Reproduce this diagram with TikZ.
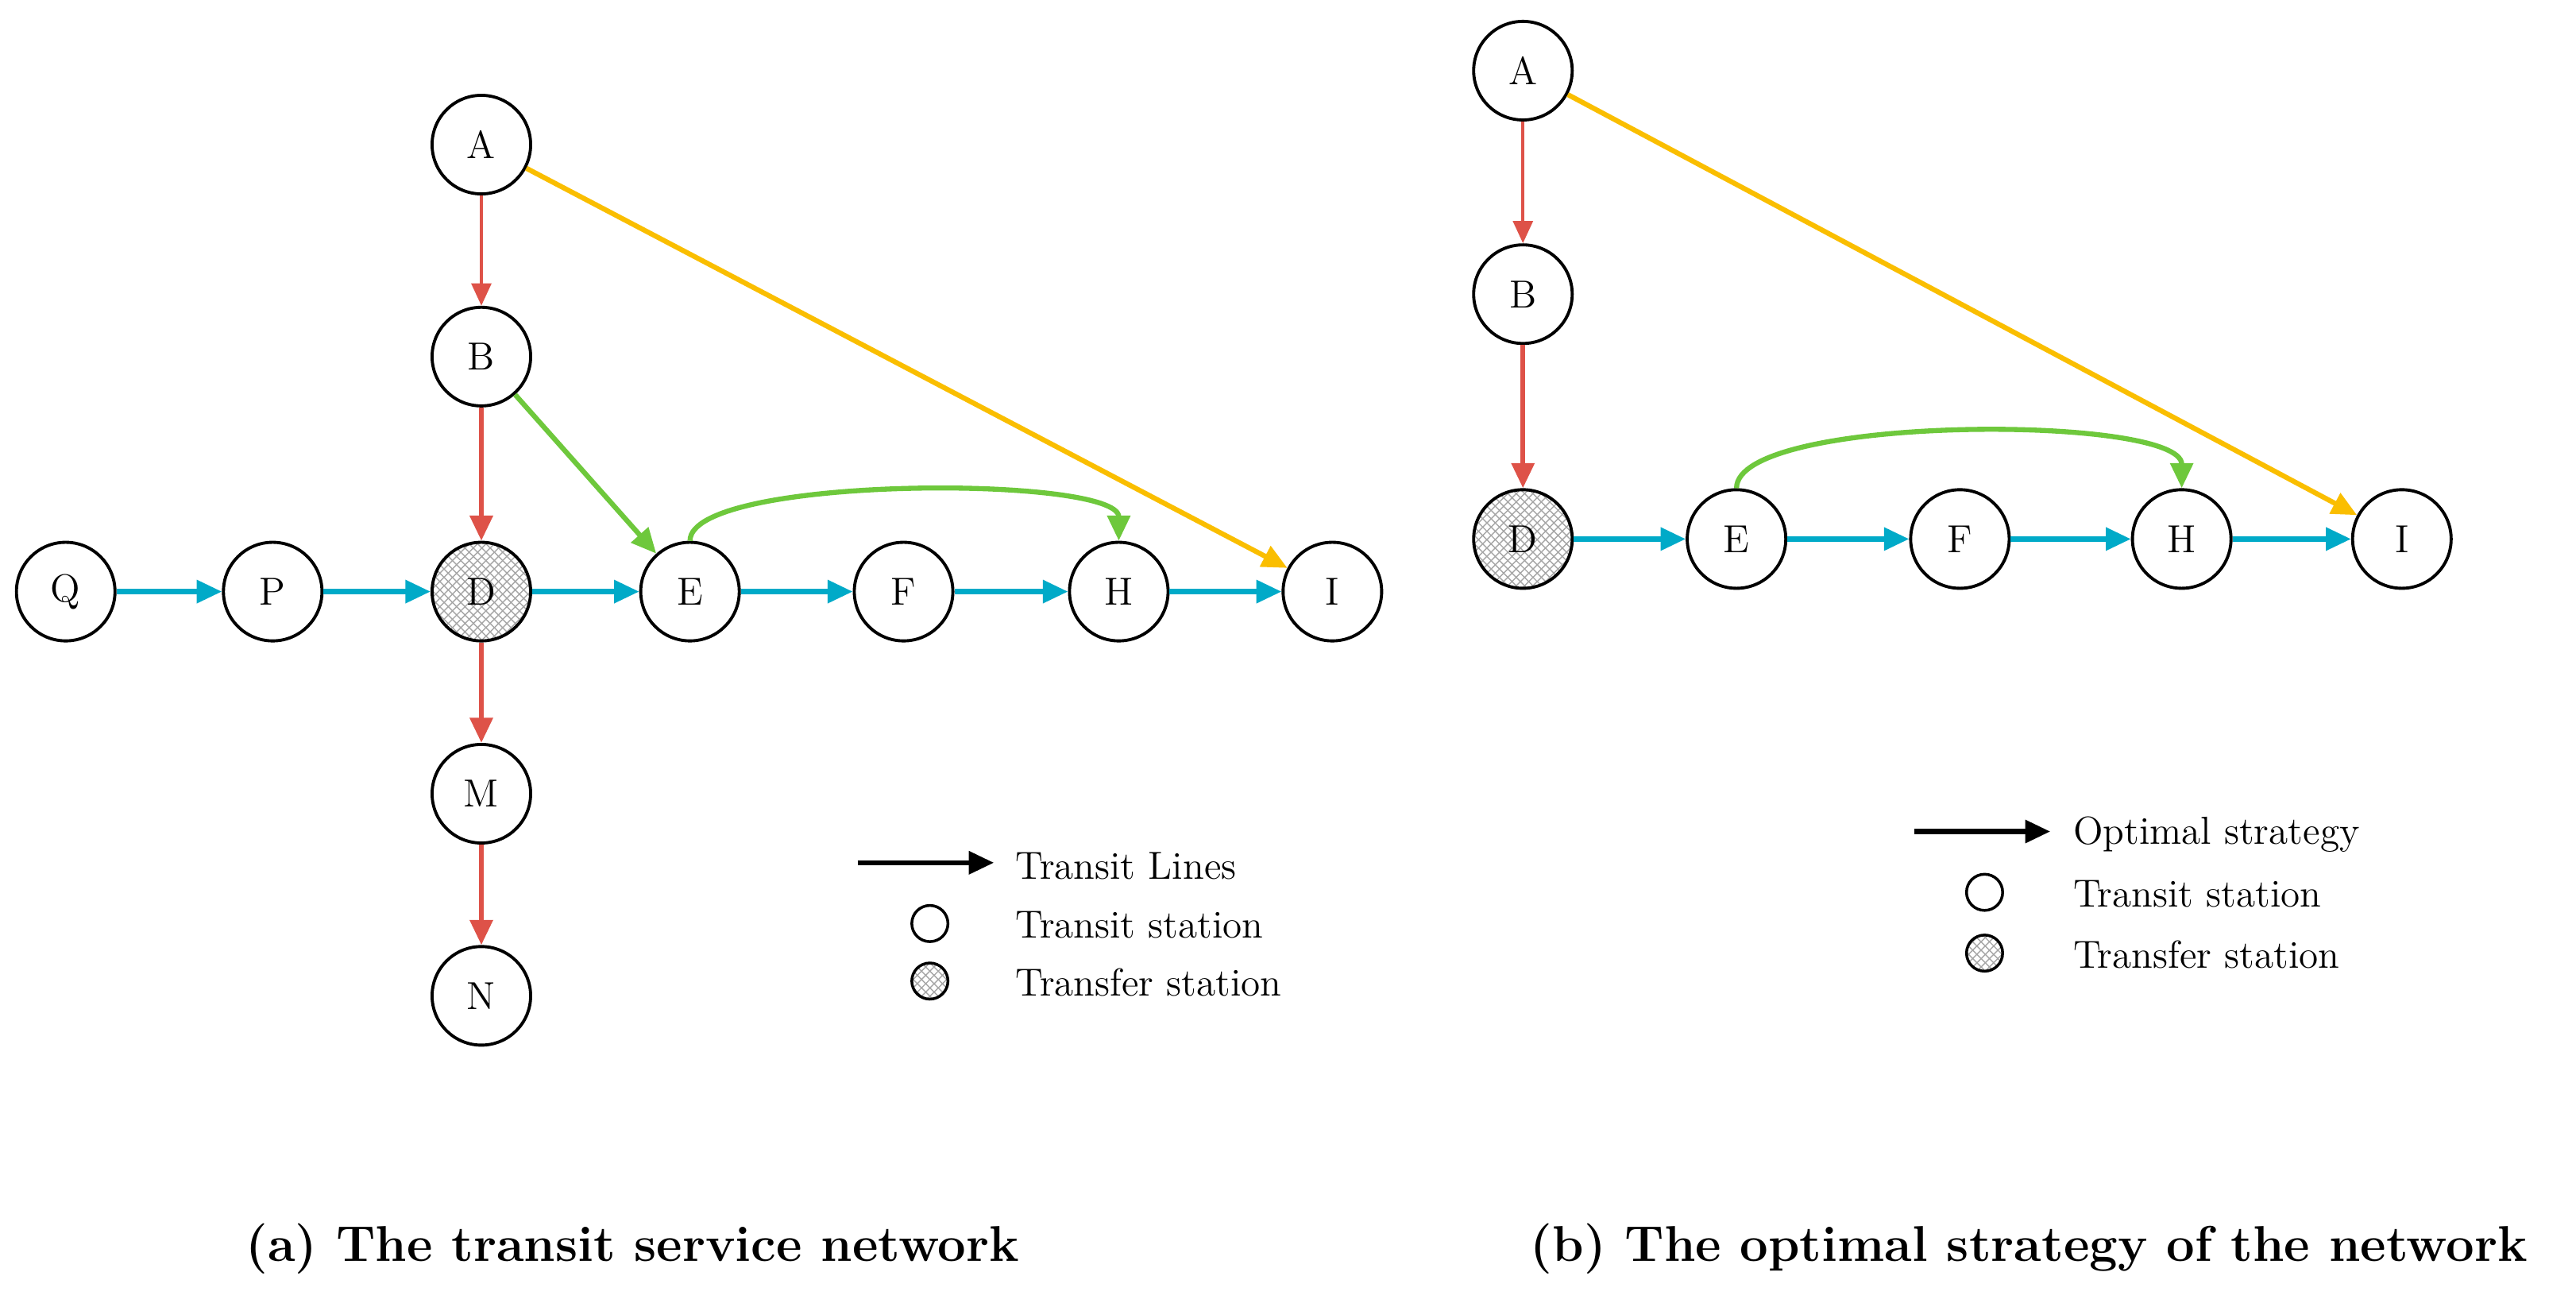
\documentclass[tikz,border=0pt]{standalone}
\usetikzlibrary{arrows.meta,patterns,calc}
\definecolor{cred}{RGB}{222,82,72}
\definecolor{cblue}{RGB}{0,170,200}
\definecolor{cgreen}{RGB}{110,200,60}
\definecolor{cyel}{RGB}{250,190,0}
\begin{document}
\begin{tikzpicture}[x=0.2068mm,y=-0.2068mm,
 st/.style={circle,draw,line width=1.1pt,minimum size=60*0.2068mm,inner sep=0pt,font=\fontsize{14}{16}\selectfont},
 tr/.style={st,pattern=crosshatch,pattern color=gray!70},
 ar/.style={line width=1.8pt,-{Triangle[length=9pt,width=8pt]}},
 thn/.style={line width=1.2pt,-{Triangle[length=8pt,width=7pt]}},
 lab/.style={anchor=west,font=\fontsize{14}{16}\selectfont},
 captxt/.style={font=\fontsize{18}{20}\selectfont\bfseries}]
\useasboundingbox (0,0) rectangle (1568,795);
% (a)
\node[st] (A) at (293,88) {A};
\node[st] (B) at (293,217) {B};
\node[tr] (D) at (293,360) {D};
\node[st] (E) at (420,360) {E};
\node[st] (F) at (550,360) {F};
\node[st] (H) at (681,360) {H};
\node[st] (I) at (811,360) {I};
\node[st] (Q) at (40,360) {Q};
\node[st] (P) at (166,360) {P};
\node[st] (M) at (293,483) {M};
\node[st] (N) at (293,606) {N};
\draw[thn,cred] (A) -- (B);
\draw[ar,cred] (B) -- (D);
\draw[ar,cred] (D) -- (M);
\draw[ar,cred] (M) -- (N);
\draw[ar,cblue] (Q) -- (P);
\draw[ar,cblue] (P) -- (D);
\draw[ar,cblue] (D) -- (E);
\draw[ar,cblue] (E) -- (F);
\draw[ar,cblue] (F) -- (H);
\draw[ar,cblue] (H) -- (I);
\draw[ar,cgreen] (B) -- (E);
\draw[ar,cgreen] (E.north) .. controls ($(E.north)+(0,-40)$) and ($(H.north)+(0,-40)$) .. (H.north);
\draw[ar,cyel] (A) -- (I);
\coordinate (la1) at (522,525); \coordinate (la2) at (605,525);
\draw[ar,black] (la1) -- (la2);
\node[lab] (lt1) at (612,527) {Transit Lines};
\node[circle,draw,line width=1pt,minimum size=22*0.2068mm,inner sep=0pt] (lc1) at (566,562) {};
\node[lab] (lt2) at (612,563) {Transit station};
\node[circle,draw,line width=1pt,minimum size=22*0.2068mm,inner sep=0pt,pattern=crosshatch,pattern color=gray!70] (lc2) at (566,597) {};
\node[lab] (lt3) at (612,598) {Transfer station};
\node[captxt] (ca) at (385,760) {(a) The transit service network};
% (b)
\node[st] (bA) at (927,43) {A};
\node[st] (bB) at (927,179) {B};
\node[tr] (bD) at (927,328) {D};
\node[st] (bE) at (1057,328) {E};
\node[st] (bF) at (1193,328) {F};
\node[st] (bH) at (1328,328) {H};
\node[st] (bI) at (1462,328) {I};
\draw[thn,cred] (bA) -- (bB);
\draw[ar,cred] (bB) -- (bD);
\draw[ar,cblue] (bD) -- (bE);
\draw[ar,cblue] (bE) -- (bF);
\draw[ar,cblue] (bF) -- (bH);
\draw[ar,cblue] (bH) -- (bI);
\draw[ar,cgreen] (bE.north) .. controls ($(bE.north)+(0,-45)$) and ($(bH.north)+(0,-45)$) .. (bH.north);
\draw[ar,cyel] (bA) -- (bI);
\coordinate (lb1) at (1165,506); \coordinate (lb2) at (1248,506);
\draw[ar,black] (lb1) -- (lb2);
\node[lab] (mt1) at (1256,508) {Optimal strategy};
\node[circle,draw,line width=1pt,minimum size=22*0.2068mm,inner sep=0pt] (mc1) at (1208,543) {};
\node[lab] (mt2) at (1256,544) {Transit station};
\node[circle,draw,line width=1pt,minimum size=22*0.2068mm,inner sep=0pt,pattern=crosshatch,pattern color=gray!70] (mc2) at (1208,580) {};
\node[lab] (mt3) at (1256,581) {Transfer station};
\node[captxt] (cb) at (1235,760) {(b) The optimal strategy of the network};
\end{tikzpicture}
\end{document}
